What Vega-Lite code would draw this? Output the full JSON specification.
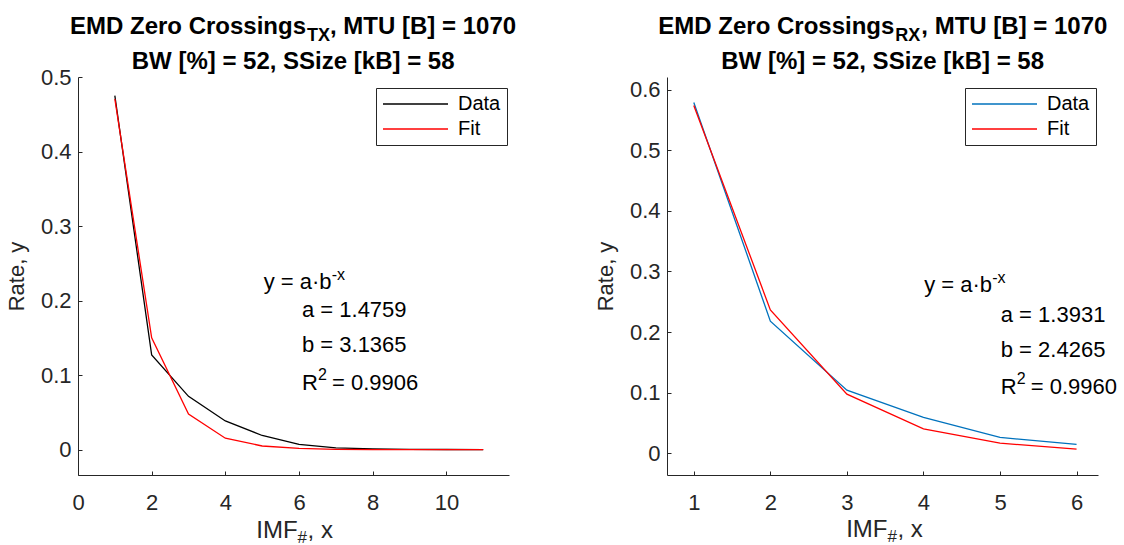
{
  "$schema": "https://vega.github.io/schema/vega-lite/v6.json",
  "background": "white",
  "padding": {"left": 5, "top": 14, "right": 5, "bottom": 0},
  "spacing": 77,
  "resolve": {"scale": {"color": "independent"}, "legend": {"color": "independent"}},
  "config": {
    "view": {"stroke": null},
    "font": "Liberation Sans",
    "text": {"font": "Liberation Sans", "color": "#000000"},
    "axis": {
      "grid": false,
      "domainColor": "#262626",
      "tickColor": "#262626",
      "labelColor": "#262626",
      "titleColor": "#262626",
      "labelFont": "Liberation Sans",
      "titleFont": "Liberation Sans",
      "labelFontSize": 22,
      "titleFontSize": 22,
      "titleFontWeight": "normal",
      "tickSize": -4,
      "labelFlush": false
    },
    "axisX": {"labelPadding": 21},
    "axisY": {"labelPadding": 11, "titlePadding": 12},
    "legend": {
      "orient": "none",
      "title": null,
      "symbolType": "stroke",
      "symbolSize": 4225,
      "symbolStrokeWidth": 1.3,
      "clipHeight": 20,
      "rowPadding": 5,
      "labelFont": "Liberation Sans",
      "labelFontSize": 20,
      "labelColor": "#000000",
      "labelOffset": 9,
      "padding": 6,
      "strokeColor": "#262626",
      "fillColor": "white"
    }
  },
  "hconcat": [
    {
      "width": 431,
      "height": 398,
      "layer": [
        {
          "data": {"values": [
            {"imf": 1, "rate": 0.475, "series": "Data"},
            {"imf": 2, "rate": 0.127, "series": "Data"},
            {"imf": 3, "rate": 0.0715, "series": "Data"},
            {"imf": 4, "rate": 0.0385, "series": "Data"},
            {"imf": 5, "rate": 0.019, "series": "Data"},
            {"imf": 6, "rate": 0.007, "series": "Data"},
            {"imf": 7, "rate": 0.0025, "series": "Data"},
            {"imf": 8, "rate": 0.001, "series": "Data"},
            {"imf": 9, "rate": 0.0004, "series": "Data"},
            {"imf": 10, "rate": 0.0002, "series": "Data"},
            {"imf": 11, "rate": 0.0001, "series": "Data"},
            {"imf": 1, "rate": 0.4706, "series": "Fit"},
            {"imf": 2, "rate": 0.15, "series": "Fit"},
            {"imf": 3, "rate": 0.0478, "series": "Fit"},
            {"imf": 4, "rate": 0.0153, "series": "Fit"},
            {"imf": 5, "rate": 0.0049, "series": "Fit"},
            {"imf": 6, "rate": 0.0016, "series": "Fit"},
            {"imf": 7, "rate": 0.0005, "series": "Fit"},
            {"imf": 8, "rate": 0.00016, "series": "Fit"},
            {"imf": 9, "rate": 0.00005, "series": "Fit"},
            {"imf": 10, "rate": 0.00002, "series": "Fit"},
            {"imf": 11, "rate": 0.000005, "series": "Fit"}
          ]},
          "mark": {"type": "line", "strokeWidth": 1.3},
          "encoding": {
            "x": {"field": "imf", "type": "quantitative",
                  "scale": {"domain": [0, 11.7], "nice": false, "zero": false},
                  "axis": {"values": [0, 2, 4, 6, 8, 10], "format": "~g", "title": null}},
            "y": {"field": "rate", "type": "quantitative",
                  "scale": {"domain": [-0.034, 0.5], "nice": false, "zero": false},
                  "axis": {"values": [0, 0.1, 0.2, 0.3, 0.4, 0.5], "format": "~g", "title": "Rate, y"}},
            "color": {"field": "series", "type": "nominal",
                      "scale": {"domain": ["Data", "Fit"], "range": ["#000000", "#ff0000"]},
                      "legend": {"legendX": 298, "legendY": 11}}
          }
        },
        {"data": {"values": [{"t": "EMD Zero Crossings"}]},
         "mark": {"type": "text", "align": "right", "baseline": "alphabetic", "fontSize": 24, "fontWeight": "bold"},
         "encoding": {"x": {"datum": 6.19, "type": "quantitative"}, "y": {"datum": 0.558, "type": "quantitative"}, "text": {"field": "t"}}},
        {"data": {"values": [{"t": "TX"}]},
         "mark": {"type": "text", "align": "left", "baseline": "alphabetic", "fontSize": 18, "fontWeight": "bold", "dx": 1, "dy": 7},
         "encoding": {"x": {"datum": 6.19, "type": "quantitative"}, "y": {"datum": 0.558, "type": "quantitative"}, "text": {"field": "t"}}},
        {"data": {"values": [{"t": ", MTU [B] = 1070"}]},
         "mark": {"type": "text", "align": "left", "baseline": "alphabetic", "fontSize": 24, "fontWeight": "bold", "dx": 24},
         "encoding": {"x": {"datum": 6.19, "type": "quantitative"}, "y": {"datum": 0.558, "type": "quantitative"}, "text": {"field": "t"}}},
        {"data": {"values": [{"t": "BW [%] = 52, SSize [kB] = 58"}]},
         "mark": {"type": "text", "align": "center", "baseline": "alphabetic", "fontSize": 24, "fontWeight": "bold"},
         "encoding": {"x": {"datum": 5.84, "type": "quantitative"}, "y": {"datum": 0.511, "type": "quantitative"}, "text": {"field": "t"}}},
        {"data": {"values": [{"t": "IMF"}]},
         "mark": {"type": "text", "align": "right", "baseline": "alphabetic", "fontSize": 24, "color": "#262626"},
         "encoding": {"x": {"datum": 5.96, "type": "quantitative"}, "y": {"datum": -0.118, "type": "quantitative"}, "text": {"field": "t"}}},
        {"data": {"values": [{"t": "#"}]},
         "mark": {"type": "text", "align": "left", "baseline": "alphabetic", "fontSize": 17, "dx": 0, "dy": 5, "color": "#262626"},
         "encoding": {"x": {"datum": 5.96, "type": "quantitative"}, "y": {"datum": -0.118, "type": "quantitative"}, "text": {"field": "t"}}},
        {"data": {"values": [{"t": ", x"}]},
         "mark": {"type": "text", "align": "left", "baseline": "alphabetic", "fontSize": 24, "dx": 10, "color": "#262626"},
         "encoding": {"x": {"datum": 5.96, "type": "quantitative"}, "y": {"datum": -0.118, "type": "quantitative"}, "text": {"field": "t"}}},
        {"data": {"values": [{"t": "y = a·b"}]},
         "mark": {"type": "text", "align": "left", "baseline": "alphabetic", "fontSize": 22},
         "encoding": {"x": {"datum": 5.04, "type": "quantitative"}, "y": {"datum": 0.216, "type": "quantitative"}, "text": {"field": "t"}}},
        {"data": {"values": [{"t": "-x"}]},
         "mark": {"type": "text", "align": "left", "baseline": "alphabetic", "fontSize": 16, "dx": 68, "dy": -9},
         "encoding": {"x": {"datum": 5.04, "type": "quantitative"}, "y": {"datum": 0.216, "type": "quantitative"}, "text": {"field": "t"}}},
        {"data": {"values": [{"t": "a = 1.4759"}]},
         "mark": {"type": "text", "align": "left", "baseline": "alphabetic", "fontSize": 22},
         "encoding": {"x": {"datum": 6.08, "type": "quantitative"}, "y": {"datum": 0.1777, "type": "quantitative"}, "text": {"field": "t"}}},
        {"data": {"values": [{"t": "b = 3.1365"}]},
         "mark": {"type": "text", "align": "left", "baseline": "alphabetic", "fontSize": 22},
         "encoding": {"x": {"datum": 6.08, "type": "quantitative"}, "y": {"datum": 0.131, "type": "quantitative"}, "text": {"field": "t"}}},
        {"data": {"values": [{"t": "R"}]},
         "mark": {"type": "text", "align": "left", "baseline": "alphabetic", "fontSize": 22},
         "encoding": {"x": {"datum": 6.08, "type": "quantitative"}, "y": {"datum": 0.0807, "type": "quantitative"}, "text": {"field": "t"}}},
        {"data": {"values": [{"t": "2"}]},
         "mark": {"type": "text", "align": "left", "baseline": "alphabetic", "fontSize": 16, "dx": 16, "dy": -10},
         "encoding": {"x": {"datum": 6.08, "type": "quantitative"}, "y": {"datum": 0.0807, "type": "quantitative"}, "text": {"field": "t"}}},
        {"data": {"values": [{"t": "= 0.9906"}]},
         "mark": {"type": "text", "align": "left", "baseline": "alphabetic", "fontSize": 22, "dx": 30},
         "encoding": {"x": {"datum": 6.08, "type": "quantitative"}, "y": {"datum": 0.0807, "type": "quantitative"}, "text": {"field": "t"}}}
      ]
    },
    {
      "width": 431,
      "height": 398,
      "layer": [
        {
          "data": {"values": [
            {"imf": 1, "rate": 0.579, "series": "Data"},
            {"imf": 2, "rate": 0.218, "series": "Data"},
            {"imf": 3, "rate": 0.104, "series": "Data"},
            {"imf": 4, "rate": 0.059, "series": "Data"},
            {"imf": 5, "rate": 0.026, "series": "Data"},
            {"imf": 6, "rate": 0.0145, "series": "Data"},
            {"imf": 1, "rate": 0.5741, "series": "Fit"},
            {"imf": 2, "rate": 0.2366, "series": "Fit"},
            {"imf": 3, "rate": 0.0975, "series": "Fit"},
            {"imf": 4, "rate": 0.0402, "series": "Fit"},
            {"imf": 5, "rate": 0.0166, "series": "Fit"},
            {"imf": 6, "rate": 0.0068, "series": "Fit"}
          ]},
          "mark": {"type": "line", "strokeWidth": 1.3},
          "encoding": {
            "x": {"field": "imf", "type": "quantitative",
                  "scale": {"domain": [0.65, 6.28], "nice": false, "zero": false},
                  "axis": {"values": [1, 2, 3, 4, 5, 6], "format": "~g", "title": null}},
            "y": {"field": "rate", "type": "quantitative",
                  "scale": {"domain": [-0.036, 0.621], "nice": false, "zero": false},
                  "axis": {"values": [0, 0.1, 0.2, 0.3, 0.4, 0.5, 0.6], "format": "~g", "title": "Rate, y"}},
            "color": {"field": "series", "type": "nominal",
                      "scale": {"domain": ["Data", "Fit"], "range": ["#0072bd", "#ff0000"]},
                      "legend": {"legendX": 298, "legendY": 11}}
          }
        },
        {"data": {"values": [{"t": "EMD Zero Crossings"}]},
         "mark": {"type": "text", "align": "right", "baseline": "alphabetic", "fontSize": 24, "fontWeight": "bold"},
         "encoding": {"x": {"datum": 3.62, "type": "quantitative"}, "y": {"datum": 0.692, "type": "quantitative"}, "text": {"field": "t"}}},
        {"data": {"values": [{"t": "RX"}]},
         "mark": {"type": "text", "align": "left", "baseline": "alphabetic", "fontSize": 18, "fontWeight": "bold", "dx": 1, "dy": 7},
         "encoding": {"x": {"datum": 3.62, "type": "quantitative"}, "y": {"datum": 0.692, "type": "quantitative"}, "text": {"field": "t"}}},
        {"data": {"values": [{"t": ", MTU [B] = 1070"}]},
         "mark": {"type": "text", "align": "left", "baseline": "alphabetic", "fontSize": 24, "fontWeight": "bold", "dx": 27},
         "encoding": {"x": {"datum": 3.62, "type": "quantitative"}, "y": {"datum": 0.692, "type": "quantitative"}, "text": {"field": "t"}}},
        {"data": {"values": [{"t": "BW [%] = 52, SSize [kB] = 58"}]},
         "mark": {"type": "text", "align": "center", "baseline": "alphabetic", "fontSize": 24, "fontWeight": "bold"},
         "encoding": {"x": {"datum": 3.467, "type": "quantitative"}, "y": {"datum": 0.634, "type": "quantitative"}, "text": {"field": "t"}}},
        {"data": {"values": [{"t": "IMF"}]},
         "mark": {"type": "text", "align": "right", "baseline": "alphabetic", "fontSize": 24, "color": "#262626"},
         "encoding": {"x": {"datum": 3.53, "type": "quantitative"}, "y": {"datum": -0.139, "type": "quantitative"}, "text": {"field": "t"}}},
        {"data": {"values": [{"t": "#"}]},
         "mark": {"type": "text", "align": "left", "baseline": "alphabetic", "fontSize": 17, "dx": 0, "dy": 5, "color": "#262626"},
         "encoding": {"x": {"datum": 3.53, "type": "quantitative"}, "y": {"datum": -0.139, "type": "quantitative"}, "text": {"field": "t"}}},
        {"data": {"values": [{"t": ", x"}]},
         "mark": {"type": "text", "align": "left", "baseline": "alphabetic", "fontSize": 24, "dx": 10, "color": "#262626"},
         "encoding": {"x": {"datum": 3.53, "type": "quantitative"}, "y": {"datum": -0.139, "type": "quantitative"}, "text": {"field": "t"}}},
        {"data": {"values": [{"t": "y = a·b"}]},
         "mark": {"type": "text", "align": "left", "baseline": "alphabetic", "fontSize": 22},
         "encoding": {"x": {"datum": 4.01, "type": "quantitative"}, "y": {"datum": 0.266, "type": "quantitative"}, "text": {"field": "t"}}},
        {"data": {"values": [{"t": "-x"}]},
         "mark": {"type": "text", "align": "left", "baseline": "alphabetic", "fontSize": 16, "dx": 68, "dy": -9},
         "encoding": {"x": {"datum": 4.01, "type": "quantitative"}, "y": {"datum": 0.266, "type": "quantitative"}, "text": {"field": "t"}}},
        {"data": {"values": [{"t": "a = 1.3931"}]},
         "mark": {"type": "text", "align": "left", "baseline": "alphabetic", "fontSize": 22},
         "encoding": {"x": {"datum": 5.01, "type": "quantitative"}, "y": {"datum": 0.217, "type": "quantitative"}, "text": {"field": "t"}}},
        {"data": {"values": [{"t": "b = 2.4265"}]},
         "mark": {"type": "text", "align": "left", "baseline": "alphabetic", "fontSize": 22},
         "encoding": {"x": {"datum": 5.01, "type": "quantitative"}, "y": {"datum": 0.159, "type": "quantitative"}, "text": {"field": "t"}}},
        {"data": {"values": [{"t": "R"}]},
         "mark": {"type": "text", "align": "left", "baseline": "alphabetic", "fontSize": 22},
         "encoding": {"x": {"datum": 5.01, "type": "quantitative"}, "y": {"datum": 0.0977, "type": "quantitative"}, "text": {"field": "t"}}},
        {"data": {"values": [{"t": "2"}]},
         "mark": {"type": "text", "align": "left", "baseline": "alphabetic", "fontSize": 16, "dx": 16, "dy": -10},
         "encoding": {"x": {"datum": 5.01, "type": "quantitative"}, "y": {"datum": 0.0977, "type": "quantitative"}, "text": {"field": "t"}}},
        {"data": {"values": [{"t": "= 0.9960"}]},
         "mark": {"type": "text", "align": "left", "baseline": "alphabetic", "fontSize": 22, "dx": 30},
         "encoding": {"x": {"datum": 5.01, "type": "quantitative"}, "y": {"datum": 0.0977, "type": "quantitative"}, "text": {"field": "t"}}}
      ]
    }
  ]
}
